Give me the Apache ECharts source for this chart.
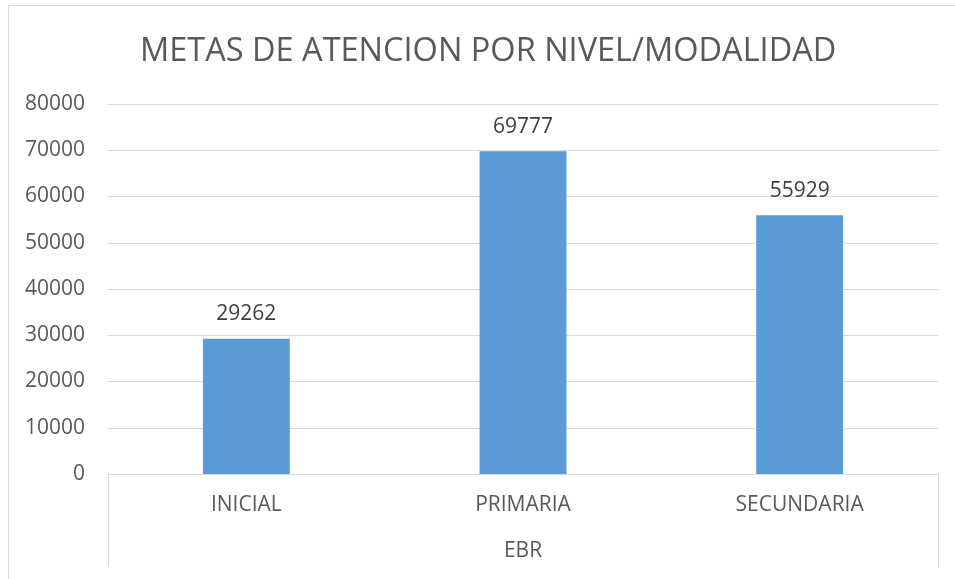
<!DOCTYPE html>
<html>
<head>
<meta charset="utf-8">
<script src="https://cdn.jsdelivr.net/npm/echarts@6/dist/echarts.min.js"></script>
<style>
  html, body { margin: 0; padding: 0; background: #fff; }
  #main { width: 955px; height: 579px; }
</style>
</head>
<body>
<div id="main"></div>
<script>
var categories = ['INICIAL', 'PRIMARIA', 'SECUNDARIA'];
var groupLabels = ['EBR'];
var metas = [29262, 69777, 55929];

var myChart = echarts.init(document.getElementById('main'));
var fontName = 'Open Sans';

var option = {
    backgroundColor: '#fff',
    textStyle: { fontFamily: fontName },
    title: {
        text: 'METAS DE ATENCION POR NIVEL/MODALIDAD',
        left: 135,
        top: 30,
        textStyle: { fontFamily: fontName, fontSize: 32.5, fontWeight: 'normal', color: '#595959' }
    },
    graphic: [{
        type: 'rect',
        shape: { x: 8.5, y: 5.5, width: 1000, height: 700 },
        style: { fill: 'none', stroke: '#D9D9D9', lineWidth: 1 },
        silent: true
    }],
    grid: { left: 108, right: 17, top: 104, bottom: 105 },
    xAxis: [{
        type: 'category',
        data: categories,
        axisLine: { lineStyle: { color: '#D9D9D9' } },
        axisTick: { show: false },
        axisLabel: { fontSize: 21, color: '#595959', margin: 21 }
    }, {
        type: 'category',
        position: 'bottom',
        data: groupLabels,
        axisLine: { show: false },
        axisTick: { show: true, length: 93, lineStyle: { color: '#D9D9D9' } },
        axisLabel: { fontSize: 21, color: '#595959', margin: 67 }
    }],
    yAxis: {
        type: 'value',
        min: 0,
        max: 80000,
        interval: 10000,
        axisLine: { show: false },
        axisTick: { show: false },
        splitLine: { lineStyle: { color: '#D9D9D9' } },
        axisLabel: {
            fontSize: 21, color: '#595959', margin: 23,
            formatter: function (v) { return String(v); }
        }
    },
    series: [{
        name: 'Metas',
        type: 'bar',
        xAxisIndex: 0,
        data: metas,
        barWidth: '31.4%',
        itemStyle: { color: '#5B9BD5' },
        label: { show: true, position: 'top', distance: 14, fontSize: 21, color: '#404040' }
    }]
};

myChart.setOption(option);
</script>
</body>
</html>
